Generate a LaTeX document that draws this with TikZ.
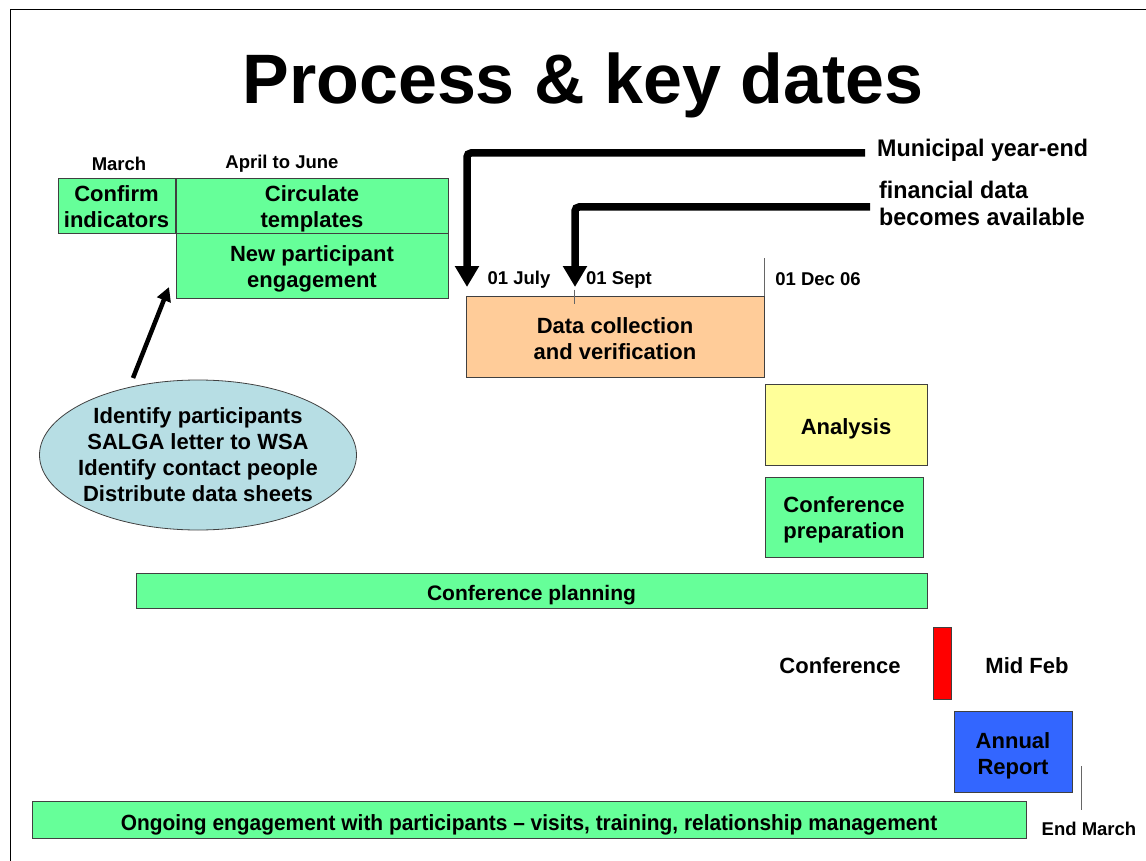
\documentclass[tikz,border=0pt]{standalone}
\usepackage{fontspec}
\setmainfont{Liberation Sans}
\usetikzlibrary{arrows.meta,shapes.geometric,calc}
\definecolor{boxgreen}{RGB}{102,255,153}
\definecolor{peach}{RGB}{255,204,153}
\definecolor{lyellow}{RGB}{255,255,153}
\definecolor{rblue}{RGB}{51,102,255}
\definecolor{lblue}{RGB}{183,222,228}
\newcommand\myup[1]{\rule{0pt}{#1pt}}
\begin{document}
\begin{tikzpicture}[x=1pt,y=-1pt,
  box/.style={draw=black!75,line width=0.8pt,inner sep=0pt,align=center,font=\fontsize{22}{26}\selectfont\bfseries},
  lab/.style={inner sep=0pt,font=\fontsize{18.5}{22}\selectfont\bfseries},
  txt/.style={inner sep=0pt,font=\fontsize{22}{26}\selectfont\bfseries},
  side/.style={inner sep=0pt,anchor=west,align=left,font=\fontsize{24}{27}\selectfont\bfseries},
  big/.style={line width=7.5pt,rounded corners=4pt,-{Triangle[width=23pt,length=21pt]}},
  tick/.style={draw=black!60,line width=0.9pt}
]
\useasboundingbox (0,0) rectangle (1146,861);
\draw[line width=1pt] (10,861) -- (10,10) -- (1146,10);

\node[inner sep=0pt,font=\fontsize{70}{84}\selectfont\bfseries] (title) at (583,85) {Process \& key dates};

\node[lab] (march) at (119,163.5) {March};
\node[lab] (apr) at (282,163.5) {April to June};
\node[box,fill=boxgreen,minimum width=117pt,minimum height=55pt] (ci) at (116.5,205.5) {\myup{19}Confirm\\indicators};
\node[box,fill=boxgreen,minimum width=272pt,minimum height=55pt] (ct) at (312,205.5) {\myup{22}Circulate\\templates};
\node[box,fill=boxgreen,minimum width=272pt,minimum height=65pt] (np) at (312,265.5) {\myup{22}New participant\\engagement};

\node[ellipse,draw=black!75,line width=0.8pt,fill=lblue,minimum width=317pt,minimum height=150pt,inner xsep=-25pt,inner ysep=-10pt,align=center,font=\fontsize{22}{26}\selectfont\bfseries] (ell) at (198,455) {Identify participants\\SALGA letter to WSA\\Identify contact people\\Distribute data sheets};
\coordinate (e1) at (133,378);
\coordinate (e2) at (169,287);
\draw[line width=4.5pt,-{Triangle[width=14pt,length=14pt]}] (e1) -- (e2);

\node[box,fill=peach,minimum width=298pt,minimum height=81pt] (dc) at (615,336.5) {\myup{20}Data collection\\and verification};
\node[lab] (jul) at (519,279.5) {01 July};
\node[lab] (sep) at (619,280) {01 Sept};
\node[lab] (dec) at (818,279) {01 Dec 06};
\draw[tick] (dc.north east) -- ++(0,-38);
\draw[tick] ($(dc.north west)+(109,-6)$) -- ++(0,14);

\node[side] (mye) at (877,150.5) {\scalebox{0.97}[1]{Municipal year-end}};
\node[side] (fda) at (879,203.5) {\scalebox{0.97}[1]{financial data}\\\scalebox{0.97}[1]{becomes available}};
\coordinate (s1) at (865,153);
\coordinate (t1) at (467,287);
\coordinate (s2) at (870,207);
\coordinate (t2) at (575,287);
\draw[big] (s1) -- (t1 |- s1) -- (t1);
\draw[big] (s2) -- (t2 |- s2) -- (t2);

\node[box,fill=lyellow,minimum width=162pt,minimum height=81pt] (an) at (846,424.5) {\myup{24}Analysis};
\node[box,fill=boxgreen,minimum width=158pt,minimum height=80pt] (cp) at (844,517) {\myup{21}Conference\\preparation};
\node[box,fill=boxgreen,minimum width=791pt,minimum height=35pt,font=\fontsize{21}{25}\selectfont\bfseries] (cpl) at (531.5,590.5) {\myup{25}Conference planning};

\node[draw=black!75,line width=0.8pt,fill=red,minimum width=18pt,minimum height=72pt,inner sep=0pt] (conf) at (942,663) {};
\node[txt] (confl) at (840,666) {Conference};
\node[txt] (mf) at (1027,666) {Mid Feb};

\node[box,fill=rblue,minimum width=118pt,minimum height=81pt] (ar) at (1013,751.5) {\myup{24}Annual\\Report};
\coordinate (em1) at (1081,766);
\coordinate (em2) at (1081,810);
\draw[tick] (em1) -- (em2);
\node[lab] (em) at (1089,829) {End March};

\node[box,fill=boxgreen,minimum width=994pt,minimum height=37pt,font=\fontsize{22}{26}\selectfont\bfseries] (og) at (529,819.5) {\myup{26}\scalebox{0.95}[1]{Ongoing engagement with participants – visits, training, relationship management}};
\end{tikzpicture}
\end{document}
